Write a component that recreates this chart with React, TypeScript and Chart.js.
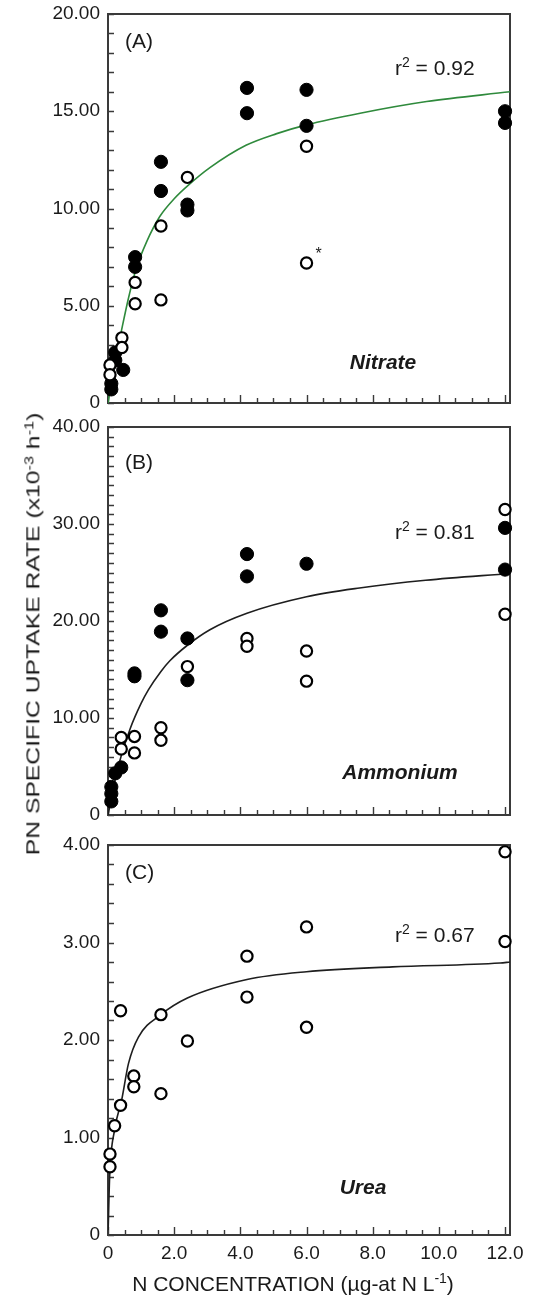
import React, { useEffect, useRef } from "react";
import { Chart, registerables } from "chart.js";

Chart.register(...registerables);

const FONT = "'Liberation Sans', Arial, Helvetica, sans-serif";

// ---- shared x axis ----
const xTickValues = [0, 2, 4, 6, 8, 10, 12];
const xTickLabels = ["0", "2.0", "4.0", "6.0", "8.0", "10.0", "12.0"];
const xMinorStep = 0.5;
const xMin = 0;
const xMax = 12.15;

// ---- Panel A: Nitrate ----
const nitrateFilledX = [0.1, 0.1, 0.22, 0.22, 0.46, 0.82, 0.82, 1.6, 1.6, 2.4, 2.4, 4.2, 4.2, 6.0, 6.0, 12, 12];
const nitrateFilledY = [1.0, 0.7, 2.6, 2.2, 1.7, 7.5, 7.0, 12.4, 10.9, 10.2, 9.9, 16.2, 14.9, 16.1, 14.25, 15.0, 14.4];
const nitrateOpenX = [0.06, 0.06, 0.42, 0.42, 0.82, 0.82, 1.6, 1.6, 2.4, 6.0, 6.0];
const nitrateOpenY = [1.95, 1.45, 3.35, 2.85, 6.2, 5.1, 9.1, 5.3, 11.6, 13.2, 7.2];
const nitrateFitX = [0, 0.2, 0.41, 0.62, 0.85, 1.17, 1.57, 2.0, 2.43, 3.08, 4.17, 5.1, 6.0, 7.62, 9.63, 12.15];
const nitrateFitY = [0, 2.0, 3.75, 5.4, 6.9, 8.3, 9.6, 10.5, 11.2, 12.1, 13.25, 13.85, 14.3, 14.9, 15.5, 16.0];
const nitrateYTicks = [0, 5, 10, 15, 20];
const nitrateYTickLabels = ["0", "5.00", "10.00", "15.00", "20.00"];
const nitrateStarX = 6.0;
const nitrateStarY = 7.2;

// ---- Panel B: Ammonium ----
const ammoniumFilledX = [0.1, 0.1, 0.1, 0.22, 0.4, 0.8, 0.8, 1.6, 1.6, 2.4, 2.4, 4.2, 4.2, 6.0, 12, 12];
const ammoniumFilledY = [2.9, 2.2, 1.4, 4.3, 4.9, 14.6, 14.3, 21.1, 18.9, 18.2, 13.9, 26.9, 24.6, 25.9, 29.6, 25.3];
const ammoniumOpenX = [0.4, 0.4, 0.8, 0.8, 1.6, 1.6, 2.4, 4.2, 4.2, 6.0, 6.0, 12, 12];
const ammoniumOpenY = [8.0, 6.8, 8.1, 6.4, 9.0, 7.7, 15.3, 18.2, 17.4, 16.9, 13.8, 31.5, 20.7];
const ammoniumFitX = [0, 0.2, 0.4, 0.67, 1.0, 1.22, 1.6, 1.87, 2.4, 3.08, 4.2, 6.0, 7.6, 9.6, 12.15];
const ammoniumFitY = [0, 3.4, 6.1, 8.9, 11.5, 12.9, 14.8, 15.9, 17.5, 19.1, 20.8, 22.5, 23.4, 24.2, 24.9];
const ammoniumYTicks = [0, 10, 20, 30, 40];
const ammoniumYTickLabels = ["0", "10.00", "20.00", "30.00", "40.00"];

// ---- Panel C: Urea ----
const ureaOpenX = [0.06, 0.06, 0.2, 0.38, 0.38, 0.78, 0.78, 1.6, 1.6, 2.4, 4.2, 4.2, 6.0, 6.0, 12, 12];
const ureaOpenY = [0.83, 0.7, 1.12, 2.3, 1.33, 1.63, 1.52, 2.26, 1.45, 1.99, 2.86, 2.44, 3.16, 2.13, 3.93, 3.01];
const ureaFitX = [0.005, 0.05, 0.2, 0.41, 0.62, 0.92, 1.6, 2.4, 4.2, 6.0, 8.6, 11.85, 12.15];
const ureaFitY = [0.05, 0.6, 1.08, 1.38, 1.76, 2.03, 2.26, 2.43, 2.62, 2.7, 2.75, 2.79, 2.8];
const ureaYTicks = [0, 1, 2, 3, 4];
const ureaYTickLabels = ["0", "1.00", "2.00", "3.00", "4.00"];

const toPts = (xs: number[], ys: number[]) => xs.map((x, i) => ({ x, y: ys[i] }));

type Rich = { t: string; sup?: boolean }[];

function drawRich(ctx: CanvasRenderingContext2D, parts: Rich, x: number, y: number, size: number, align: "left" | "center") {
  const supSize = Math.round(size * 0.68);
  let total = 0;
  for (const p of parts) {
    ctx.font = `${p.sup ? supSize : size}px ${FONT}`;
    total += ctx.measureText(p.t).width;
  }
  let cx = align === "center" ? x - total / 2 : x;
  ctx.textAlign = "left";
  ctx.textBaseline = "alphabetic";
  for (const p of parts) {
    ctx.font = `${p.sup ? supSize : size}px ${FONT}`;
    ctx.fillText(p.t, cx, p.sup ? y - size * 0.38 : y);
    cx += ctx.measureText(p.t).width;
  }
}

type Panel = {
  key: string;
  top: number;
  height: number;
  padTop: number;
  xAxisH: number;
  showXLabels: boolean;
  yMax: number;
  yMinor: number;
  yTicks: number[];
  yTickLabels: string[];
  filled: { x: number; y: number }[] | null;
  open: { x: number; y: number }[];
  fit: { x: number; y: number }[];
  fitColor: string;
  tag: string;
  r2: string;
  r2Dy: number;
  tagDy: number;
  name: string;
  nameX: number;
  nameDy: number;
  star: boolean;
  xTitle: boolean;
};

const panels: Panel[] = [
  {
    key: "A", top: 0, height: 416, padTop: 14, xAxisH: 13, showXLabels: false,
    yMax: 20, yMinor: 1, yTicks: nitrateYTicks, yTickLabels: nitrateYTickLabels,
    filled: toPts(nitrateFilledX, nitrateFilledY), open: toPts(nitrateOpenX, nitrateOpenY),
    fit: toPts(nitrateFitX, nitrateFitY), fitColor: "#2f8a3c",
    tag: "(A)", tagDy: 28, r2: "0.92", r2Dy: 54, name: "Nitrate", nameX: 383, nameDy: -40, star: true, xTitle: false,
  },
  {
    key: "B", top: 414, height: 414, padTop: 13, xAxisH: 13, showXLabels: false,
    yMax: 40, yMinor: 1, yTicks: ammoniumYTicks, yTickLabels: ammoniumYTickLabels,
    filled: toPts(ammoniumFilledX, ammoniumFilledY), open: toPts(ammoniumOpenX, ammoniumOpenY),
    fit: toPts(ammoniumFitX, ammoniumFitY), fitColor: "#1e1e1e",
    tag: "(B)", tagDy: 36, r2: "0.81", r2Dy: 105, name: "Ammonium", nameX: 400, nameDy: -42, star: false, xTitle: false,
  },
  {
    key: "C", top: 828, height: 468, padTop: 17, xAxisH: 61, showXLabels: true,
    yMax: 4, yMinor: 0.2, yTicks: ureaYTicks, yTickLabels: ureaYTickLabels,
    filled: null, open: toPts(ureaOpenX, ureaOpenY),
    fit: toPts(ureaFitX, ureaFitY), fitColor: "#1e1e1e",
    tag: "(C)", tagDy: 28, r2: "0.67", r2Dy: 90, name: "Urea", nameX: 363, nameDy: -47, star: false, xTitle: true,
  },
];

function makePlugin(p: Panel) {
  return {
    id: "decor" + p.key,
    beforeDatasetsDraw(chart: any) {
      const { ctx, chartArea: a, scales } = chart;
      const xs = scales.x;
      const ys = scales.y;
      ctx.save();
      ctx.strokeStyle = "#3a3a3a";
      ctx.lineWidth = 1.4;
      ctx.beginPath();
      const nx = Math.round(12 / xMinorStep);
      for (let i = 0; i <= nx; i++) {
        const v = i * xMinorStep;
        const px = Math.round(xs.getPixelForValue(v)) + 0.5;
        const len = i % 4 === 0 ? 8 : 5;
        ctx.moveTo(px, a.bottom);
        ctx.lineTo(px, a.bottom - len);
      }
      const ny = Math.round(p.yMax / p.yMinor);
      for (let i = 0; i <= ny; i++) {
        const v = i * p.yMinor;
        const py = Math.round(ys.getPixelForValue(v)) + 0.5;
        ctx.moveTo(a.left, py);
        ctx.lineTo(a.left + 6, py);
      }
      ctx.stroke();
      ctx.lineWidth = 2;
      ctx.strokeRect(a.left, a.top, a.right - a.left, a.bottom - a.top);
      ctx.restore();
    },
    afterDatasetsDraw(chart: any) {
      const { ctx, chartArea: a, scales } = chart;
      ctx.save();
      ctx.fillStyle = "#1a1a1a";
      ctx.font = `21px ${FONT}`;
      ctx.textAlign = "left";
      ctx.textBaseline = "middle";
      ctx.fillText(p.tag, a.left + 17, a.top + p.tagDy);
      drawRich(ctx, [{ t: "r" }, { t: "2", sup: true }, { t: " = " + p.r2 }], a.left + 287, a.top + p.r2Dy + 7, 21, "left");
      ctx.font = `italic bold 21px ${FONT}`;
      ctx.textAlign = "center";
      ctx.textBaseline = "middle";
      ctx.fillText(p.name, p.nameX, a.bottom + p.nameDy);
      if (p.star) {
        const sx = scales.x.getPixelForValue(nitrateStarX);
        const sy = scales.y.getPixelForValue(nitrateStarY);
        ctx.font = `16px ${FONT}`;
        ctx.textAlign = "center";
        ctx.textBaseline = "middle";
        ctx.fillText("*", sx + 12, sy - 8);
      }
      if (p.xTitle) {
        drawRich(
          ctx,
          [{ t: "N CONCENTRATION (\u00b5g-at N L" }, { t: "-1", sup: true }, { t: ")" }],
          293,
          a.bottom + 56,
          21,
          "center"
        );
      }
      ctx.restore();
    },
  };
}

function PanelChart({ p }: { p: Panel }) {
  const ref = useRef<HTMLCanvasElement | null>(null);
  useEffect(() => {
    if (!ref.current) return;
    const datasets: any[] = [];
    if (p.filled) {
      datasets.push({
        label: "filled",
        data: p.filled,
        pointRadius: 6.6,
        pointBorderWidth: 1,
        pointBackgroundColor: "#000",
        pointBorderColor: "#000",
        showLine: false,
        clip: false,
        order: 1,
      });
    }
    datasets.push({
      label: "open",
      data: p.open,
      pointRadius: 5.6,
      pointBorderWidth: 2.2,
      pointBackgroundColor: "#fff",
      pointBorderColor: "#000",
      showLine: false,
      clip: false,
      order: 0,
    });
    datasets.push({
      label: "fit",
      data: p.fit,
      showLine: true,
      pointRadius: 0,
      borderColor: p.fitColor,
      borderWidth: 1.6,
      cubicInterpolationMode: "monotone",
      fill: false,
      order: 2,
    });
    const chart = new Chart(ref.current, {
      type: "scatter",
      data: { datasets },
      options: {
        animation: false,
        responsive: false,
        devicePixelRatio: 1,
        events: [],
        layout: { padding: { top: p.padTop, right: 26, left: 0, bottom: 0 } },
        plugins: { legend: { display: false }, tooltip: { enabled: false }, title: { display: false } },
        scales: {
          x: {
            type: "linear",
            min: xMin,
            max: xMax,
            grid: { display: false, drawTicks: false },
            border: { display: false },
            afterBuildTicks: (s: any) => {
              s.ticks = xTickValues.map((v) => ({ value: v }));
            },
            afterFit: (s: any) => {
              s.height = p.xAxisH;
              s.paddingLeft = 0;
              s.paddingRight = 0;
            },
            ticks: {
              display: p.showXLabels,
              autoSkip: false,
              maxRotation: 0,
              padding: 7,
              color: "#1a1a1a",
              font: { family: FONT, size: 19 },
              callback: (_v: any, i: number) => xTickLabels[i],
            },
          },
          y: {
            type: "linear",
            min: 0,
            max: p.yMax,
            grid: { display: false, drawTicks: false },
            border: { display: false },
            afterBuildTicks: (s: any) => {
              s.ticks = p.yTicks.map((v) => ({ value: v }));
            },
            afterFit: (s: any) => {
              s.width = 108;
              s.paddingTop = 0;
              s.paddingBottom = 0;
            },
            ticks: {
              autoSkip: false,
              padding: 8,
              color: "#1a1a1a",
              font: { family: FONT, size: 19 },
              callback: (_v: any, i: number) => p.yTickLabels[i],
            },
          },
        },
      } as any,
      plugins: [makePlugin(p)],
    });
    return () => chart.destroy();
  }, [p]);
  return (
    <canvas
      ref={ref}
      width={536}
      height={p.height}
      style={{ position: "absolute", left: 0, top: p.top, width: 536, height: p.height }}
    />
  );
}

export default function App() {
  const supStyle: React.CSSProperties = { fontSize: "0.66em", verticalAlign: "0.5em", lineHeight: 1 };
  return (
    <div
      style={{
        position: "absolute",
        left: 0,
        top: 0,
        width: 536,
        height: 1296,
        background: "#fff",
        overflow: "hidden",
        fontFamily: FONT,
      }}
    >
      {panels.map((p) => (
        <PanelChart key={p.key} p={p} />
      ))}
      <div
        style={{
          position: "absolute",
          left: 33,
          top: 634,
          transform: "translate(-50%, -50%) rotate(-90deg) scaleX(1.3)",
          whiteSpace: "nowrap",
          fontSize: 19,
          lineHeight: "19px",
          color: "#1a1a1a",
        }}
      >
        PN SPECIFIC UPTAKE RATE (x10<span style={supStyle}>-3</span> h<span style={supStyle}>-1</span>)
      </div>
    </div>
  );
}
